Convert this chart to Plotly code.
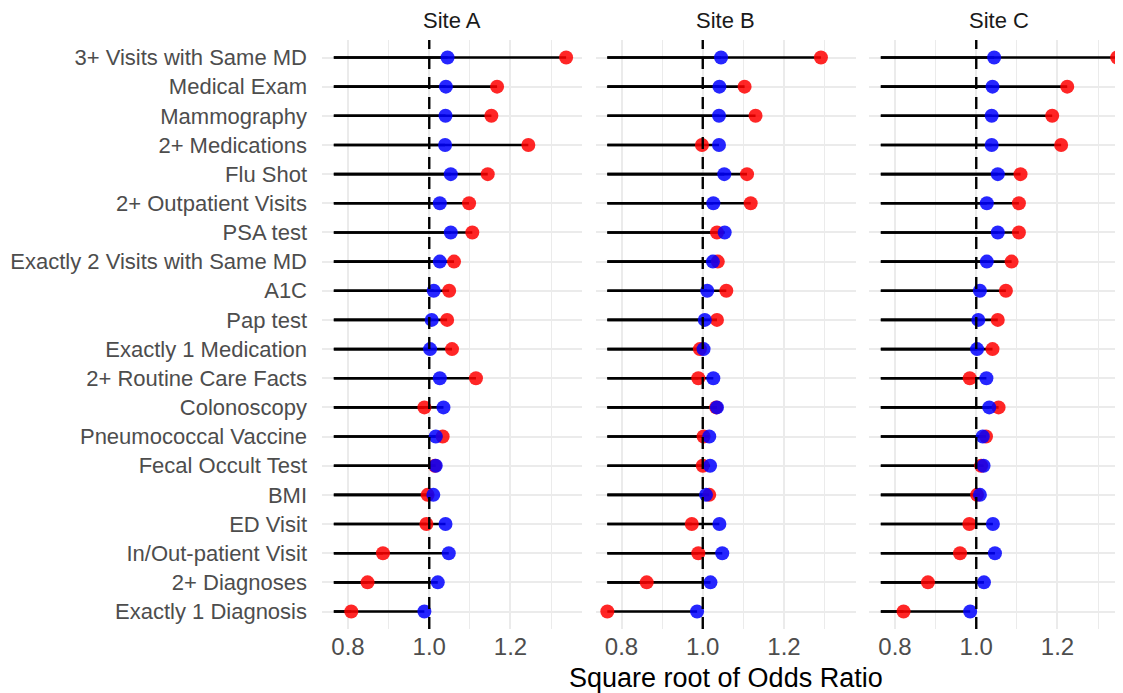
import plotly.graph_objects as go

categories = [
    "3+ Visits with Same MD", "Medical Exam", "Mammography", "2+ Medications",
    "Flu Shot", "2+ Outpatient Visits", "PSA test", "Exactly 2 Visits with Same MD",
    "A1C", "Pap test", "Exactly 1 Medication", "2+ Routine Care Facts",
    "Colonoscopy", "Pneumococcal Vaccine", "Fecal Occult Test", "BMI",
    "ED Visit", "In/Out-patient Visit", "2+ Diagnoses", "Exactly 1 Diagnosis",
]
sites = ["Site A", "Site B", "Site C"]

site_a_red = [1.337, 1.167, 1.153, 1.244, 1.144, 1.098, 1.106, 1.061, 1.049, 1.044,
              1.056, 1.115, 0.988, 1.033, 1.014, 0.996, 0.993, 0.886, 0.848, 0.808]
site_a_blue = [1.045, 1.041, 1.040, 1.039, 1.053, 1.026, 1.053, 1.026, 1.011, 1.006,
               1.002, 1.026, 1.035, 1.016, 1.016, 1.010, 1.040, 1.048, 1.021, 0.988]
site_b_red = [1.291, 1.103, 1.130, 0.998, 1.109, 1.118, 1.035, 1.037, 1.058, 1.035,
              0.993, 0.989, 1.033, 1.002, 1.000, 1.016, 0.973, 0.989, 0.862, 0.765]
site_b_blue = [1.045, 1.041, 1.040, 1.040, 1.053, 1.026, 1.054, 1.025, 1.011, 1.005,
               1.002, 1.026, 1.035, 1.016, 1.018, 1.008, 1.041, 1.048, 1.019, 0.986]
site_c_red = [1.347, 1.224, 1.187, 1.209, 1.109, 1.105, 1.105, 1.087, 1.073, 1.053,
              1.040, 0.984, 1.055, 1.024, 1.012, 1.002, 0.983, 0.960, 0.881, 0.821]
site_c_blue = [1.044, 1.040, 1.038, 1.038, 1.053, 1.026, 1.053, 1.026, 1.009, 1.005,
               1.002, 1.025, 1.032, 1.016, 1.018, 1.009, 1.041, 1.046, 1.019, 0.985]

x_ticks = [0.8, 1.0, 1.2]
x_minor = [0.9, 1.1, 1.3]
x_tick_labels = ["0.8", "1.0", "1.2"]
x_title = "Square root of Odds Ratio"

red_series = [site_a_red, site_b_red, site_c_red]
blue_series = [site_a_blue, site_b_blue, site_c_blue]

# ---- layout geometry (pixels; the page body adds an 8px margin) ----
W, H = 1115, 685
plot_left, plot_top, plot_bottom = 314, 32, 64
panel_w, panel_step = 260.0, 273.5
area_w = W - plot_left

all_vals = [v for s in red_series + blue_series for v in s]
lo, hi = min(all_vals), max(all_vals)
span = hi - lo
r_lo, r_hi = lo - 0.05 * span, hi + 0.05 * span
px_per_unit = panel_w / (r_hi - r_lo)

FONT = "Liberation Sans, Arial, sans-serif"
GRID = "#EBEBEB"

fig = go.Figure()
n = len(categories)

for k, site in enumerate(sites):
    xa = "x" if k == 0 else f"x{k+1}"
    ya = "y" if k == 0 else f"y{k+1}"
    reds, blues = red_series[k], blue_series[k]
    # lollipop segments from the data minimum to each value
    sx, sy = [], []
    for cat, r, b in zip(categories, reds, blues):
        for v in (r, b):
            sx += [lo, v, None]
            sy += [cat, cat, None]
    fig.add_trace(go.Scatter(x=sx, y=sy, mode="lines", xaxis=xa, yaxis=ya,
                             line=dict(color="black", width=2.6),
                             hoverinfo="skip", showlegend=False))
    fig.add_trace(go.Scatter(x=reds, y=categories, mode="markers", xaxis=xa, yaxis=ya,
                             marker=dict(color="#FF0000", size=14, opacity=0.85,
                                         line=dict(width=0)),
                             showlegend=False, cliponaxis=False))
    fig.add_trace(go.Scatter(x=blues, y=categories, mode="markers", xaxis=xa, yaxis=ya,
                             marker=dict(color="#0000FF", size=14, opacity=0.85,
                                         line=dict(width=0)),
                             showlegend=False, cliponaxis=False))

    d0 = k * panel_step / area_w
    d1 = min(1.0, (k * panel_step + panel_w) / area_w)
    vis_w = (d1 - d0) * area_w
    rng = [r_lo, r_lo + vis_w / px_per_unit]

    xaxis = dict(domain=[d0, d1], range=rng, anchor=ya,
                 tickvals=x_ticks, ticktext=x_tick_labels,
                 showgrid=True, gridcolor=GRID, gridwidth=1.8,
                 minor=dict(tickvals=x_minor, showgrid=True, gridcolor=GRID, gridwidth=1.2),
                 zeroline=False, showline=False, ticks="",
                 ticklabelstandoff=1,
                 tickfont=dict(family=FONT, size=24, color="#4D4D4D"))
    yaxis = dict(domain=[0, 1], anchor=xa, type="category",
                 categoryorder="array", categoryarray=categories,
                 range=[n - 1 + 0.6, -0.6],
                 showgrid=True, gridcolor=GRID, gridwidth=1.8,
                 zeroline=False, showline=False, ticks="",
                 showticklabels=(k == 0), automargin=False,
                 ticklabelstandoff=14,
                 tickfont=dict(family=FONT, size=22, color="#4D4D4D"))
    if k > 0:
        yaxis["matches"] = "y"
    fig.layout["xaxis" if k == 0 else f"xaxis{k+1}"] = xaxis
    fig.layout["yaxis" if k == 0 else f"yaxis{k+1}"] = yaxis

    fig.add_shape(type="line", xref=xa, yref=f"{ya} domain", x0=1, x1=1, y0=0, y1=1,
                  line=dict(color="black", width=2.4, dash="12px,8px"), layer="above")

    center_px = k * panel_step + panel_w / 2
    fig.add_annotation(text=site, xref="paper", yref="paper",
                       x=center_px / area_w, y=1, xanchor="center", yanchor="bottom",
                       yshift=5, showarrow=False,
                       font=dict(family=FONT, size=22, color="#1A1A1A"))

title_center = (2 * panel_step + panel_w) / 2
fig.add_annotation(text=x_title, xref="paper", yref="paper",
                   x=title_center / area_w, y=0, xanchor="center", yanchor="top",
                   yshift=-32, showarrow=False,
                   font=dict(family=FONT, size=27, color="black"))

fig.update_layout(width=W, height=H, plot_bgcolor="white", paper_bgcolor="white",
                  margin=dict(l=plot_left, r=0, t=plot_top, b=plot_bottom),
                  showlegend=False)

fig.write_html("out.html")
